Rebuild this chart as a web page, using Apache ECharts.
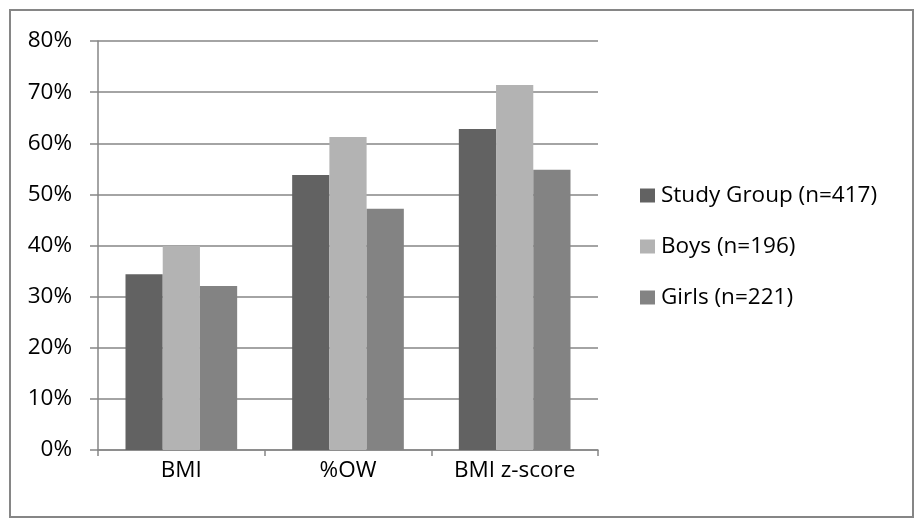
<!DOCTYPE html>
<html>
<head>
<meta charset="utf-8">
<script src="https://cdn.jsdelivr.net/npm/echarts@6/dist/echarts.min.js"></script>
<style>
  html, body { margin: 0; padding: 0; background: #fff; }
  #chart { width: 916px; height: 523px; }
</style>
</head>
<body>
<div id="chart"></div>
<script>
// Share of children classified overweight/obese under each measure
const categories = ['BMI', '%OW', 'BMI z-score'];
const studyGroup = [34.4, 53.8, 62.8];
const boys = [39.9, 61.2, 71.4];
const girls = [32.1, 47.2, 54.8];
const seriesNames = ['Study Group (n=417)', 'Boys (n=196)', 'Girls (n=221)'];
const yTicks = [0, 10, 20, 30, 40, 50, 60, 70, 80];

const FONT = 'Open Sans';
const FONT_SIZE = 22.5;
const GRID = '#868686';
const colors = ['#626262', '#b3b3b3', '#838383'];

const chart = echarts.init(document.getElementById('chart'), null, { renderer: 'canvas' });

const makeSeries = (name, values, color) => ({
  name: name,
  type: 'bar',
  data: values,
  barGap: '0%',
  barCategoryGap: '33%',
  itemStyle: { color: color },
  emphasis: { disabled: true }
});

chart.setOption({
  animation: false,
  color: colors,
  graphic: [{
    type: 'rect',
    shape: { x: 10, y: 10, width: 903, height: 507 },
    style: { fill: 'none', stroke: GRID, lineWidth: 2 },
    silent: true
  }],
  grid: { left: 98, right: 318, top: 41, bottom: 73, containLabel: false },
  legend: {
    orient: 'vertical',
    left: 640,
    top: 184,
    padding: 0,
    itemWidth: 15,
    itemHeight: 14,
    itemGap: 28,
    icon: 'rect',
    textStyle: { fontFamily: FONT, fontSize: FONT_SIZE, color: '#000', padding: [0, 0, 0, 1], lineHeight: 22 },
    data: seriesNames
  },
  xAxis: {
    type: 'category',
    data: categories,
    axisLine: { lineStyle: { color: GRID, width: 1.5 } },
    axisTick: { show: true, length: 6, inside: false, lineStyle: { color: GRID, width: 1.5 } },
    axisLabel: { fontFamily: FONT, fontSize: FONT_SIZE, color: '#000', margin: 9 }
  },
  yAxis: {
    type: 'value',
    min: yTicks[0],
    max: yTicks[yTicks.length - 1],
    interval: 10,
    axisLine: { show: true, lineStyle: { color: GRID, width: 1.5 } },
    axisTick: { show: true, length: 8, lineStyle: { color: GRID, width: 1.5 } },
    splitLine: { lineStyle: { color: GRID, width: 1.5 } },
    axisLabel: {
      fontFamily: FONT, fontSize: FONT_SIZE, color: '#000', margin: 26,
      formatter: v => v + '%'
    }
  },
  series: [
    makeSeries(seriesNames[0], studyGroup, colors[0]),
    makeSeries(seriesNames[1], boys, colors[1]),
    makeSeries(seriesNames[2], girls, colors[2])
  ]
});
</script>
</body>
</html>
